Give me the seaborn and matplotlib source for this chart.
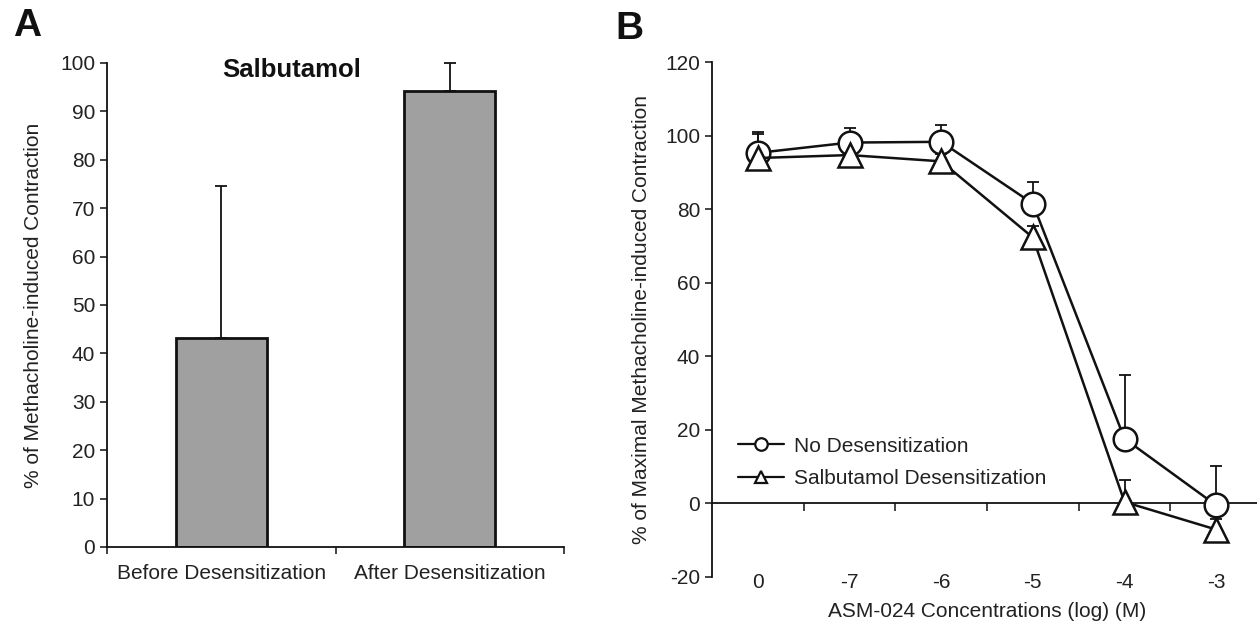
import numpy as np
import pandas as pd
import matplotlib
matplotlib.use('Agg')
import matplotlib.pyplot as plt
from matplotlib.lines import Line2D
from matplotlib.ticker import NullLocator, FixedLocator
import seaborn as sns

# ---------------- data ----------------
bar_categories = ['Before Desensitization', 'After Desensitization']
bar_values = [43.2, 94.2]
bar_errors = [31.4, 5.8]

conc_labels = ['0', '-7', '-6', '-5', '-4', '-3']
series_names = ['No Desensitization', 'Salbutamol Desensitization']
no_desens = [95.3, 98.1, 98.3, 81.5, 17.6, -0.5]
no_desens_err = [5.7, 3.9, 4.5, 5.8, 17.2, 10.8]
salb_desens = [93.9, 94.7, 93.0, 72.3, 0.4, -7.1]
salb_desens_err = [6.4, 2.0, 2.0, 3.0, 6.1, 3.0]

# ---------------- style ----------------
sns.set_style('ticks')
plt.rcParams['font.family'] = ['Liberation Sans', 'DejaVu Sans']
plt.rcParams['axes.unicode_minus'] = False
TXT = '#222222'
LINE = '#111111'
plt.rcParams['text.color'] = TXT
plt.rcParams['axes.labelcolor'] = TXT
plt.rcParams['xtick.color'] = TXT
plt.rcParams['ytick.color'] = TXT
FS = 15

W, H = 1257, 628
fig = plt.figure(figsize=(W / 100, H / 100), dpi=100)

# ---------------- panel A ----------------
axA = fig.add_axes([107 / W, 1 - 547 / H, 457 / W, 484 / H])
dfA = pd.DataFrame({'cond': bar_categories, 'val': bar_values})
sns.barplot(data=dfA, x='cond', y='val', order=bar_categories, color='#a0a0a0',
            saturation=1, width=0.4, edgecolor=LINE, linewidth=2.0,
            errorbar=None, ax=axA)
xa = np.arange(len(bar_categories))
axA.errorbar(xa, bar_values, yerr=[np.zeros(len(bar_values)), bar_errors],
             fmt='none', ecolor=LINE, elinewidth=1.3, capsize=4.5, capthick=1.3,
             clip_on=False, zorder=1)
axA.set_xlim(-0.5, 1.5)
axA.set_ylim(0, 100)
axA.set_yticks(np.arange(0, 101, 10))
axA.set_xlabel('')
axA.set_ylabel('% of Methacholine-induced Contraction', fontsize=FS, labelpad=12)
axA.xaxis.set_minor_locator(FixedLocator([-0.5, 0.5, 1.5]))
axA.tick_params(axis='x', which='major', length=0, pad=12, labelsize=FS)
axA.tick_params(axis='x', which='minor', length=5, width=1.2, direction='out')
axA.tick_params(axis='y', length=5, width=1.2, direction='out', labelsize=FS)
for s in ['top', 'right']:
    axA.spines[s].set_visible(False)
for s in ['left', 'bottom']:
    axA.spines[s].set_linewidth(1.3)
    axA.spines[s].set_color(LINE)
axA.text(0.405, 0.985, 'Salbutamol', transform=axA.transAxes, ha='center',
         va='center', fontsize=18.5, fontweight='bold', color='#111111')

# ---------------- panel B ----------------
axB = fig.add_axes([712 / W, 1 - 577 / H, 550 / W, 515 / H])
dfB = pd.DataFrame({
    'conc': conc_labels * 2,
    'val': no_desens + salb_desens,
    'series': [series_names[0]] * len(conc_labels) + [series_names[1]] * len(conc_labels),
})
xb = np.arange(len(conc_labels))
axB.errorbar(xb, no_desens, yerr=[np.zeros(len(xb)), no_desens_err], fmt='none',
             ecolor=LINE, elinewidth=1.3, capsize=4, capthick=1.3, zorder=1)
axB.errorbar(xb, salb_desens, yerr=[np.zeros(len(xb)), salb_desens_err], fmt='none',
             ecolor=LINE, elinewidth=1.3, capsize=4, capthick=1.3, zorder=1)
sns.pointplot(data=dfB, x='conc', y='val', hue='series', order=conc_labels,
              hue_order=series_names, palette=[LINE, LINE], markers=['o', '^'],
              linestyles=['-', '-'], errorbar=None, dodge=False, legend=False,
              markersize=17, linewidth=1.8, markeredgewidth=1.8, ax=axB)
for i, ln in enumerate(axB.lines):
    ln.set_markerfacecolor('white')
    ln.set_zorder(3 + i)

axB.set_xlim(-0.5, 5.5)
axB.set_ylim(-20, 120)
axB.set_yticks(np.arange(-20, 121, 20))
axB.set_xlabel('')
axB.set_ylabel('% of Maximal Methacholine-induced Contraction', fontsize=FS, labelpad=10)
for s in ['top', 'right']:
    axB.spines[s].set_visible(False)
axB.spines['bottom'].set_position(('data', 0))
for s in ['left', 'bottom']:
    axB.spines[s].set_linewidth(1.3)
    axB.spines[s].set_color(LINE)
axB.set_xticks(xb)
axB.xaxis.set_minor_locator(FixedLocator(np.arange(0.5, len(conc_labels), 1.0)))
axB.tick_params(axis='x', which='major', length=0, labelbottom=False)
axB.tick_params(axis='x', which='minor', length=6, width=1.2, direction='out')
axB.tick_params(axis='y', length=5, width=1.2, direction='out', labelsize=FS)

sec = axB.secondary_xaxis('bottom')
sec.set_xticks(xb, labels=conc_labels)
sec.xaxis.set_minor_locator(NullLocator())
sec.tick_params(axis='x', length=0, pad=-3, labelsize=FS)
sec.spines['bottom'].set_visible(False)
sec.set_xlabel('ASM-024 Concentrations (log) (M)', fontsize=FS, labelpad=7)

handles = [
    Line2D([], [], color=LINE, marker='o', markersize=9, markerfacecolor='white',
           markeredgewidth=1.6, linewidth=1.6),
    Line2D([], [], color=LINE, marker='^', markersize=9, markerfacecolor='white',
           markeredgewidth=1.6, linewidth=1.6),
]
fig.legend(handles, series_names, loc='center left',
           bbox_to_anchor=(738 / W, 1 - 462.5 / H), frameon=False, fontsize=FS,
           handlelength=2.2, handletextpad=0.5, labelspacing=0.65,
           borderpad=0, borderaxespad=0)

# panel letters
fig.text(27 / W, 1 - 26 / H, 'A', fontsize=28, fontweight='bold', color='#111111',
         ha='center', va='center')
fig.text(629 / W, 1 - 29 / H, 'B', fontsize=28, fontweight='bold', color='#111111',
         ha='center', va='center')

fig.savefig('out.png', dpi=100)
